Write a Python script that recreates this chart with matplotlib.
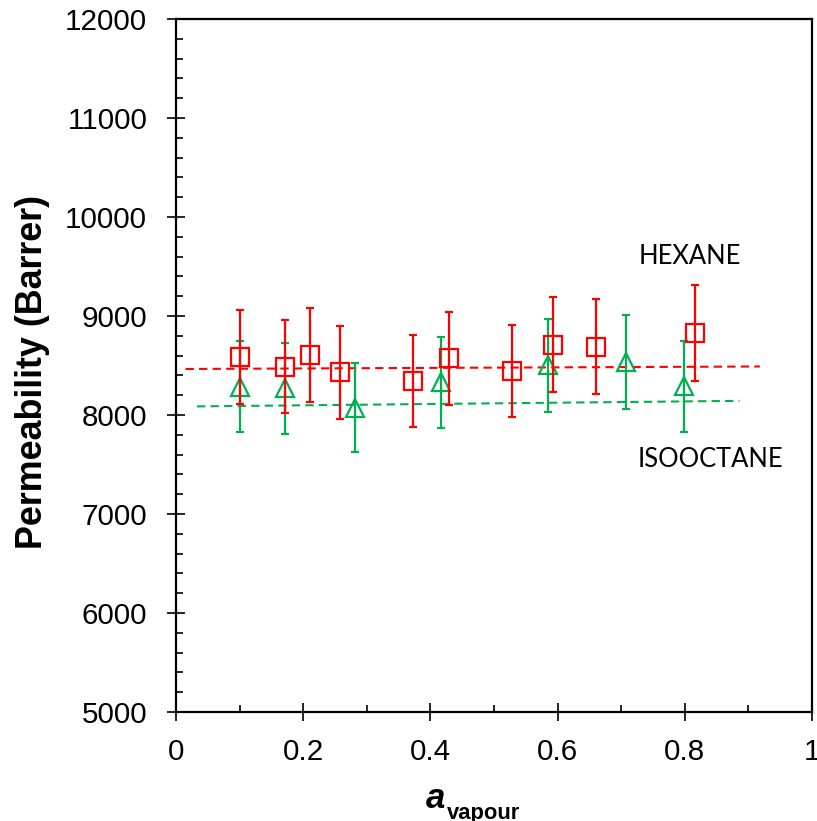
import matplotlib
matplotlib.use("Agg")
import matplotlib.pyplot as plt
from matplotlib.ticker import MultipleLocator

# ---- data ----
hex_x = [0.101, 0.171, 0.210, 0.258, 0.372, 0.430, 0.529, 0.593, 0.660, 0.816]
hex_y = [8586, 8488, 8606, 8431, 8342, 8572, 8444, 8710, 8690, 8826]
hex_err = [473, 470, 475, 467, 464, 473, 466, 481, 480, 487]

iso_x = [0.101, 0.171, 0.282, 0.417, 0.585, 0.707, 0.799]
iso_y = [8284, 8270, 8074, 8331, 8501, 8535, 8289]
iso_err = [460, 458, 448, 460, 468, 471, 460]

hex_trend_x = [0.015, 0.918]
hex_trend_y = [8465, 8490]
iso_trend_x = [0.033, 0.886]
iso_trend_y = [8087, 8143]

x_ticks = [0, 0.2, 0.4, 0.6, 0.8, 1]
x_ticklabels = ["0", "0.2", "0.4", "0.6", "0.8", "1"]
y_ticks = [5000, 6000, 7000, 8000, 9000, 10000, 11000, 12000]

RED = "#FF0000"
GREEN = "#00B050"

W, H = 817, 821
fig = plt.figure(figsize=(W / 100, H / 100), dpi=100)
ax = fig.add_axes([176 / W, 1 - 712 / H, (812 - 176) / W, (712 - 19) / H])

ax.plot(hex_trend_x, hex_trend_y, color=RED, lw=1.5, ls=(0, (4, 2.5)), zorder=2)
ax.plot(iso_trend_x, iso_trend_y, color=GREEN, lw=1.5, ls=(0, (4, 2.5)), zorder=2)

ax.errorbar(iso_x, iso_y, yerr=iso_err, fmt="^", ms=12.8, mfc="none", mec=GREEN,
            mew=1.6, ecolor=GREEN, elinewidth=1.6, capsize=2.6, capthick=1.6, zorder=3)
ax.errorbar(hex_x, hex_y, yerr=hex_err, fmt="s", ms=12.8, mfc="none", mec=RED,
            mew=1.6, ecolor=RED, elinewidth=1.6, capsize=2.6, capthick=1.6, zorder=4)

ax.set_xlim(0, 1)
ax.set_ylim(5000, 12000)
ax.set_xticks(x_ticks)
ax.set_xticklabels(x_ticklabels)
ax.set_yticks(y_ticks)
ax.set_yticklabels([str(v) for v in y_ticks])
ax.xaxis.set_minor_locator(MultipleLocator(0.1))
ax.yaxis.set_minor_locator(MultipleLocator(200))

for s in ax.spines.values():
    s.set_linewidth(1.6)
    s.set_color("black")

ax.tick_params(which="major", direction="inout", length=13.5, width=1.2, color="black")
ax.tick_params(axis="y", which="major", pad=14)
ax.tick_params(axis="x", which="major", pad=12)
ax.tick_params(which="minor", direction="in", length=5, width=1.2, color="black")
for lab in ax.get_xticklabels() + ax.get_yticklabels():
    lab.set_fontfamily("Liberation Sans")
    lab.set_fontsize(21.3)

# y label
fig.text(33 / W, 1 - 372 / H, "Permeability (Barrer)", rotation=90, ha="center", va="center",
         fontsize=25.8, fontweight="bold", family="Liberation Sans")
# x label: bold italic a with bold subscript
fig.text(426 / W, 1 - 808 / H, "a", ha="left", va="baseline", fontsize=25,
         fontweight="bold", fontstyle="italic", family="Liberation Sans")
fig.text(447 / W, 1 - 819 / H, "vapour", ha="left", va="baseline", fontsize=15.8,
         fontweight="bold", family="Liberation Sans")

# series labels
fig.text(639 / W, 1 - 264 / H, "HEXANE", ha="left", va="baseline", fontsize=18.4,
         family="Lato")
fig.text(638 / W, 1 - 467 / H, "ISOOCTANE", ha="left", va="baseline", fontsize=18.4,
         family="Lato")

fig.savefig("out.png", dpi=100)
